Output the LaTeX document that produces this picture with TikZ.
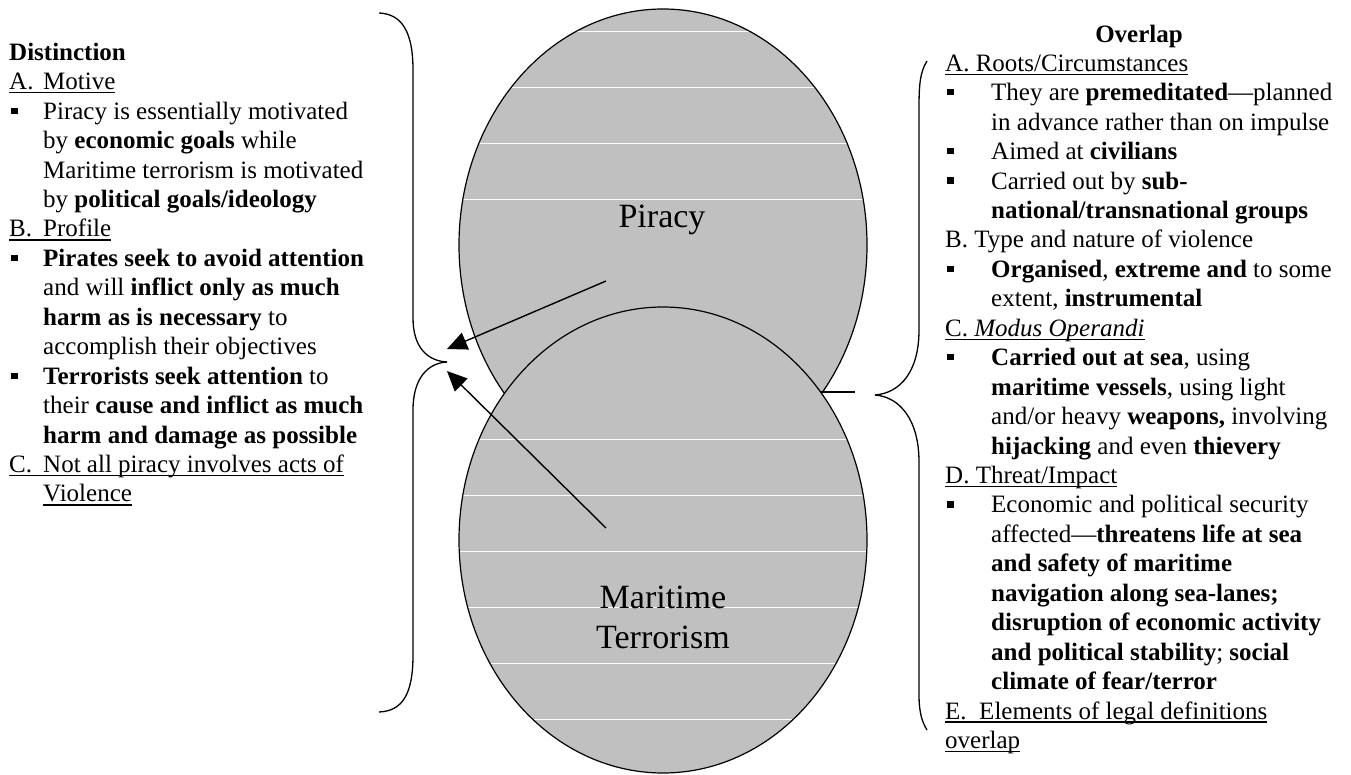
\documentclass[tikz,border=0pt]{standalone}
\usepackage{fontspec}
\setmainfont{Liberation Serif}
\usetikzlibrary{arrows.meta}
\definecolor{ellgray}{RGB}{192,192,192}
\newcommand\ulx[1]{\setbox0=\hbox{#1}\rlap{\rule[-3.8pt]{\wd0}{1.5pt}}\box0}
\newcommand\bulL{\makebox[34pt][l]{\hspace{2pt}\rule[5.3pt]{6.3pt}{6.3pt}}}
\newcommand\bulR{\makebox[46pt][l]{\hspace{2pt}\rule[5.3pt]{6.3pt}{6.3pt}}}
\newcommand\indL{\hspace*{34pt}}
\newcommand\indR{\hspace*{46pt}}
\newcommand\fst{\rule{0pt}{22pt}}
\tikzset{
  txt/.style={inner sep=0pt, align=left, font=\fontsize{25pt}{29.45pt}\selectfont},
  big/.style={inner sep=0pt, align=center, font=\fontsize{34pt}{40pt}\selectfont},
  outline/.style={draw=black, line width=1.2pt},
  bracestyle/.style={draw=black, line width=1.3pt},
  arr/.style={draw=black, line width=1.4pt, -{Triangle[length=20pt,width=18pt]}},
  hatch/.style={white, line width=1pt}
}
\begin{document}
\begin{tikzpicture}[x=1pt,y=-1pt]
\useasboundingbox (0,0) rectangle (1351,775);
\fill[white] (0,0) rectangle (1351,775);

% top ellipse (Piracy)
\begin{scope}
  \clip (663,245) ellipse [x radius=204pt, y radius=236pt];
  \fill[ellgray] (450,0) rectangle (880,490);
  \foreach \yy in {32,88,144,200} \draw[hatch] (450,\yy) -- (880,\yy);
\end{scope}
\draw[outline] (663,245) ellipse [x radius=204pt, y radius=236pt];

% bottom ellipse (Maritime Terrorism)
\begin{scope}
  \clip (663,540) ellipse [x radius=204pt, y radius=233pt];
  \fill[ellgray] (450,300) rectangle (880,775);
  \foreach \yy in {439,495,551,607,663,719} \draw[hatch] (450,\yy) -- (880,\yy);
\end{scope}
\draw[outline] (663,540) ellipse [x radius=204pt, y radius=233pt];

\node[big, anchor=base] (piracy) at (662,228) {Piracy};
\node[big, anchor=north] (terror) at (663,581) {\rule{0pt}{27pt}Maritime\\Terrorism};

% arrows
\coordinate (p1) at (606,281);
\coordinate (t1) at (447,349);
\coordinate (p2) at (606,528);
\coordinate (t2) at (447,371);
\draw[arr] (p1) -- (t1);
\draw[arr] (p2) -- (t2);

% short connector on the right
\coordinate (isect) at (820,392);
\coordinate (lend) at (855,392);
\draw[outline] (isect) -- (lend);

% left brace
\draw[bracestyle] (379,13) .. controls (402,14) and (413,32) .. (413,70)
  -- (413,318) .. controls (413,348) and (428,361) .. (447,362);
\draw[bracestyle] (447,362) .. controls (428,363) and (413,378) .. (413,410)
  -- (413,655) .. controls (413,695) and (402,711) .. (379,712);

% right brace
\draw[bracestyle] (927,61) .. controls (920,72) and (919,85) .. (919,108)
  -- (919,330) .. controls (919,372) and (900,393) .. (875,395);
\draw[bracestyle] (875,395) .. controls (900,397) and (919,420) .. (919,462)
  -- (919,695) .. controls (919,712) and (922,722) .. (927,730);

% left text
\node[txt, anchor=north west] (dist) at (9,38) {\fst\textbf{Distinction}\\
\ulx{\makebox[34pt][l]{A.}Motive}\\
\bulL Piracy is essentially motivated\\
\indL by \textbf{economic goals} while\\
\indL Maritime terrorism is motivated\\
\indL by \textbf{political goals/ideology}\\
\ulx{\makebox[34pt][l]{B.}Profile}\\
\bulL\textbf{Pirates seek to avoid attention}\\
\indL and will \textbf{inflict only as much}\\
\indL\textbf{harm as is necessary} to\\
\indL accomplish their objectives\\
\bulL\textbf{Terrorists seek attention} to\\
\indL their \textbf{cause and inflict as much}\\
\indL\textbf{harm and damage as possible}\\
\ulx{\makebox[34pt][l]{C.}Not all piracy involves acts of}\\
\indL\ulx{Violence}};

% right text
\node[txt, anchor=base, font=\fontsize{25pt}{29.45pt}\selectfont\bfseries] (ovl) at (1139,43) {Overlap};
\node[txt, anchor=north west] (over) at (945,49) {\fst\ulx{A. Roots/Circumstances}\\
\bulR They are \textbf{premeditated}—planned\\
\indR in advance rather than on impulse\\
\bulR Aimed at \textbf{civilians}\\
\bulR Carried out by \textbf{sub-}\\
\indR\textbf{national/transnational groups}\\
B. Type and nature of violence\\
\bulR\textbf{Organised}, \textbf{extreme and} to some\\
\indR extent, \textbf{instrumental}\\
\ulx{C. \textit{Modus Operandi}}\\
\bulR\textbf{Carried out at sea}, using\\
\indR\textbf{maritime vessels}, using light\\
\indR and/or heavy \textbf{weapons,} involving\\
\indR\textbf{hijacking} and even \textbf{thievery}\\
\ulx{D. Threat/Impact}\\
\bulR Economic and political security\\
\indR affected—\textbf{threatens life at sea}\\
\indR\textbf{and safety of maritime}\\
\indR\textbf{navigation along sea-lanes;}\\
\indR\textbf{disruption of economic activity}\\
\indR\textbf{and political stability}; \textbf{social}\\
\indR\textbf{climate of fear/terror}\\
\ulx{E.\ \ Elements of legal definitions}\\
\ulx{overlap}};
\end{tikzpicture}
\end{document}
